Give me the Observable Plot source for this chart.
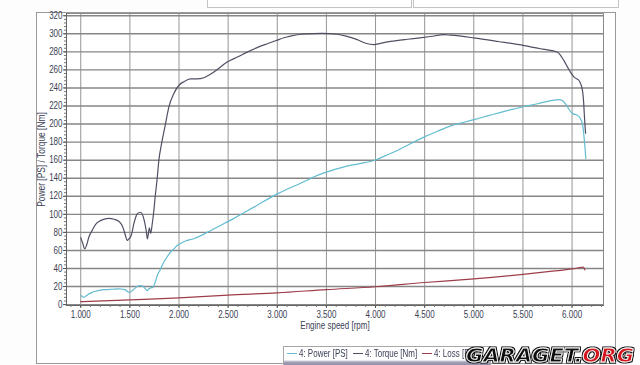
<!DOCTYPE html>
<html><head><meta charset="utf-8">
<script src="https://cdn.jsdelivr.net/npm/d3@7"></script>
<script src="https://cdn.jsdelivr.net/npm/@observablehq/plot@0.6"></script>
<style>
html,body{margin:0;padding:0;background:#fff;}
#wrap{position:relative;width:640px;height:365px;overflow:hidden;background:#fdfdfd;font-family:'Liberation Sans',Arial,sans-serif;}
.hbox{position:absolute;top:-2px;height:8px;border:1px solid #c4c4c4;background:#fff;}
#outer{position:absolute;left:36px;top:12px;width:578px;height:350px;border:1px solid #9a9a9a;background:#fff;}
#chart{position:absolute;left:0;top:0;}
#legend{position:absolute;left:283px;top:346px;width:208px;height:22px;border:1px solid #a8a8a8;box-sizing:border-box;
 background:linear-gradient(#fff 0,#fff 13px,#a4a2b8 15px,#7e7b99 21px);}
.li{position:absolute;top:347px;font-size:10.5px;line-height:13px;color:#3b3f55;white-space:nowrap;transform:scaleX(0.76);transform-origin:0 0;}
.sw{position:absolute;top:353px;width:10px;height:1px;}
#wm{position:absolute;left:462px;top:344px;}
</style></head><body>
<div id="wrap">
  <div class="hbox" style="left:207px;width:203px"></div>
  <div class="hbox" style="left:413px;width:204px"></div>
  <div id="outer"></div>
  <div id="chart"></div>
  <div id="legend"></div>
  <div id="legendItems"></div>
  <svg id="wm" width="178" height="22">
    <defs>
      <filter id="outline" x="-5%" y="-20%" width="110%" height="140%">
        <feMorphology in="SourceAlpha" operator="dilate" radius="1.4" result="d"/>
        <feFlood flood-color="#111"/>
        <feComposite in2="d" operator="in" result="o"/>
        <feMerge><feMergeNode in="o"/><feMergeNode in="SourceGraphic"/></feMerge>
      </filter>
    </defs>
    <text x="4" y="18" filter="url(#outline)" font-family="'DejaVu Sans', sans-serif" font-size="19" font-weight="bold" font-style="italic" textLength="168" lengthAdjust="spacingAndGlyphs" stroke="#fff" stroke-width="0.8"><tspan fill="#111">GARAGET.</tspan><tspan fill="#d4161e">ORG</tspan></text>
  </svg>
</div>
<script>
// ---- data ----
const torqueRpm = [1000,1020,1041,1060,1082,1110,1133,1165,1201,1250,1286,1340,1387,1421,1440,1455,1472,1489,1506,1522,1540,1557,1574,1608,1642,1666,1679,1698,1712,1727,1742,1758,1778,1795,1822,1862,1897,1948,2000,2050,2117,2185,2253,2355,2490,2600,2694,2800,2898,3000,3067,3134,3237,3300,3450,3610,3700,3814,3900,3984,4050,4154,4324,4450,4561,4700,4765,5000,5250,5513,5700,5853,5890,5919,5960,5987,6021,6050,6072,6090,6108,6118,6125,6132,6138];
const torqueNm  = [74,68,61.7,66,74.6,81,85.7,90.5,93,95,95.5,94.5,92.3,87.6,82,76.5,71,72.8,74.6,80,89.5,96,100.5,102.3,95,82,72.8,85,79,89,102,120,140,160,178,200,219,234,243,247,250,250,251.3,257.6,268.7,274.5,279.7,285,289,293,295.6,297.5,299.5,300,300.5,299.5,297.5,293.5,289.5,288,289.5,291.6,294,295.5,297,299,298.5,295.5,291.5,287,283,279.5,275,270,262,257,252,250,248,244,236,224,210,198,190];

const powerRpm = [1000,1015,1031,1060,1082,1115,1150,1200,1252,1320,1387,1430,1455,1475,1489,1505,1523,1550,1574,1608,1630,1650,1676,1695,1710,1734,1755,1778,1810,1845,1880,1913,1950,1981,2020,2066,2150,2287,2400,2559,2763,3000,3237,3440,3644,3780,3900,3984,4100,4222,4350,4493,4630,4765,4900,5003,5140,5275,5400,5513,5650,5784,5868,5900,5935,5965,5987,6020,6057,6085,6108,6120,6130,6140];
const powerPs  = [10,9,8.2,10,11.8,13.5,14.8,16,16.6,17,17.4,17,16.3,14.5,13.7,14,15.5,18,20,21,20.5,18.5,15.5,17.5,18.5,19,24,32,39,47,53,58,62,65.4,68,70.5,73,80,86.5,95.5,108,122.7,134.5,144.5,151.5,155,157.5,159.6,165,170.7,178,185.5,192,198,202,205,209,213,216.5,219.5,222.5,226,227,226,222,217,213.5,211,209.5,206,199,188,176,162];

const lossRpm = [1000,1500,2000,2500,3000,3500,4000,4500,5000,5500,5800,6000,6100,6115,6130];
const lossPs  = [3.3,5.3,7.4,10.5,13,16.6,19.8,24.5,28.5,33.5,37,39.5,41.3,41.5,38.5];

const seriesNames  = ["4: Power [PS]", "4: Torque [Nm]", "4: Loss [PS]"];
const seriesColors = ["#63bcd0", "#505064", "#9e3d4a"];

const xTicks = [1000,1500,2000,2500,3000,3500,4000,4500,5000,5500,6000];
const yTicks = [0,20,40,60,80,100,120,140,160,180,200,220,240,260,280,300,320];
const minorX = d3.range(900, 6301, 100);
const minorY = d3.range(0, 321, 4);

const torque = torqueRpm.map((r, i) => ({rpm: r, v: torqueNm[i]}));
const power  = powerRpm.map((r, i) => ({rpm: r, v: powerPs[i]}));
const loss   = lossRpm.map((r, i) => ({rpm: r, v: lossPs[i]}));

const fmt = d => d3.format(",")(d).replace(/,/g, ".");
const txt = "#3b3f55";

const chart = Plot.plot({
  width: 640, height: 365,
  marginLeft: 66, marginRight: 37, marginTop: 13, marginBottom: 60,
  x: {domain: [855, 6320]},
  y: {domain: [-1, 322.5]},
  style: {background: "transparent", fontFamily: "'Liberation Sans',Arial,sans-serif", fontSize: "10px", color: txt},
  marks: [
    Plot.gridX(xTicks, {stroke: "#959595", strokeOpacity: 1}),
    Plot.gridY(yTicks, {stroke: "#868686", strokeOpacity: 1, strokeWidth: 1.4}),
    Plot.frame({stroke: "#8a8a8a"}),
    Plot.frame({anchor: "left", stroke: "#666"}),
    Plot.frame({anchor: "bottom", stroke: "#666"}),
    Plot.axisX(minorX, {tickSize: 2, tickFormat: () => "", label: null, stroke: "#777"}),
    Plot.axisY(minorY, {tickSize: 2, tickFormat: () => "", label: null, stroke: "#777"}),
    Plot.axisX(xTicks, {tickSize: 3, tickPadding: 2.5, tickFormat: fmt, label: null, fontSize: 10, fill: txt, stroke: "#555"}),
    Plot.axisY(yTicks, {tickSize: 3, tickPadding: 1, tickFormat: d => String(d), label: null, fontSize: 10, fill: txt, stroke: "#555"}),
    Plot.line(loss, {x: "rpm", y: "v", stroke: seriesColors[2], strokeWidth: 1.2, curve: "monotone-x"}),
    Plot.line(power, {x: "rpm", y: "v", stroke: seriesColors[0], strokeWidth: 1.2, curve: "monotone-x"}),
    Plot.line(torque, {x: "rpm", y: "v", stroke: seriesColors[1], strokeWidth: 1.2, curve: "monotone-x"}),
    Plot.text(["Power [PS] / Torque [Nm]"], {text: d => d, frameAnchor: "left", textAnchor: "middle", dx: -25, rotate: -90, fontSize: 10.5, fill: txt}),
    Plot.text(["Engine speed [rpm]"], {text: d => d, frameAnchor: "bottom", textAnchor: "middle", dy: 23.5, fontSize: 10, fill: txt})
  ]
});
document.getElementById("chart").appendChild(chart);
// narrow the glyphs to match the condensed face of the original
chart.querySelectorAll("text").forEach(t => {
  const s = t.textContent;
  if (!s) return;
  const w = t.getComputedTextLength();
  if (w > 0) {
    t.setAttribute("textLength", (w * 0.8).toFixed(2));
    t.setAttribute("lengthAdjust", "spacingAndGlyphs");
  }
});
// legend (HTML, at the bottom as in the original)
const swLeft = [287, 353, 422];
const holder = document.getElementById("legendItems");
seriesNames.forEach((name, i) => {
  const sw = document.createElement("div");
  sw.className = "sw"; sw.style.left = swLeft[i] + "px"; sw.style.background = seriesColors[i];
  const tx = document.createElement("div");
  tx.className = "li"; tx.style.left = (swLeft[i] + 12) + "px"; tx.textContent = name;
  holder.appendChild(sw); holder.appendChild(tx);
});
</script>
</body></html>
